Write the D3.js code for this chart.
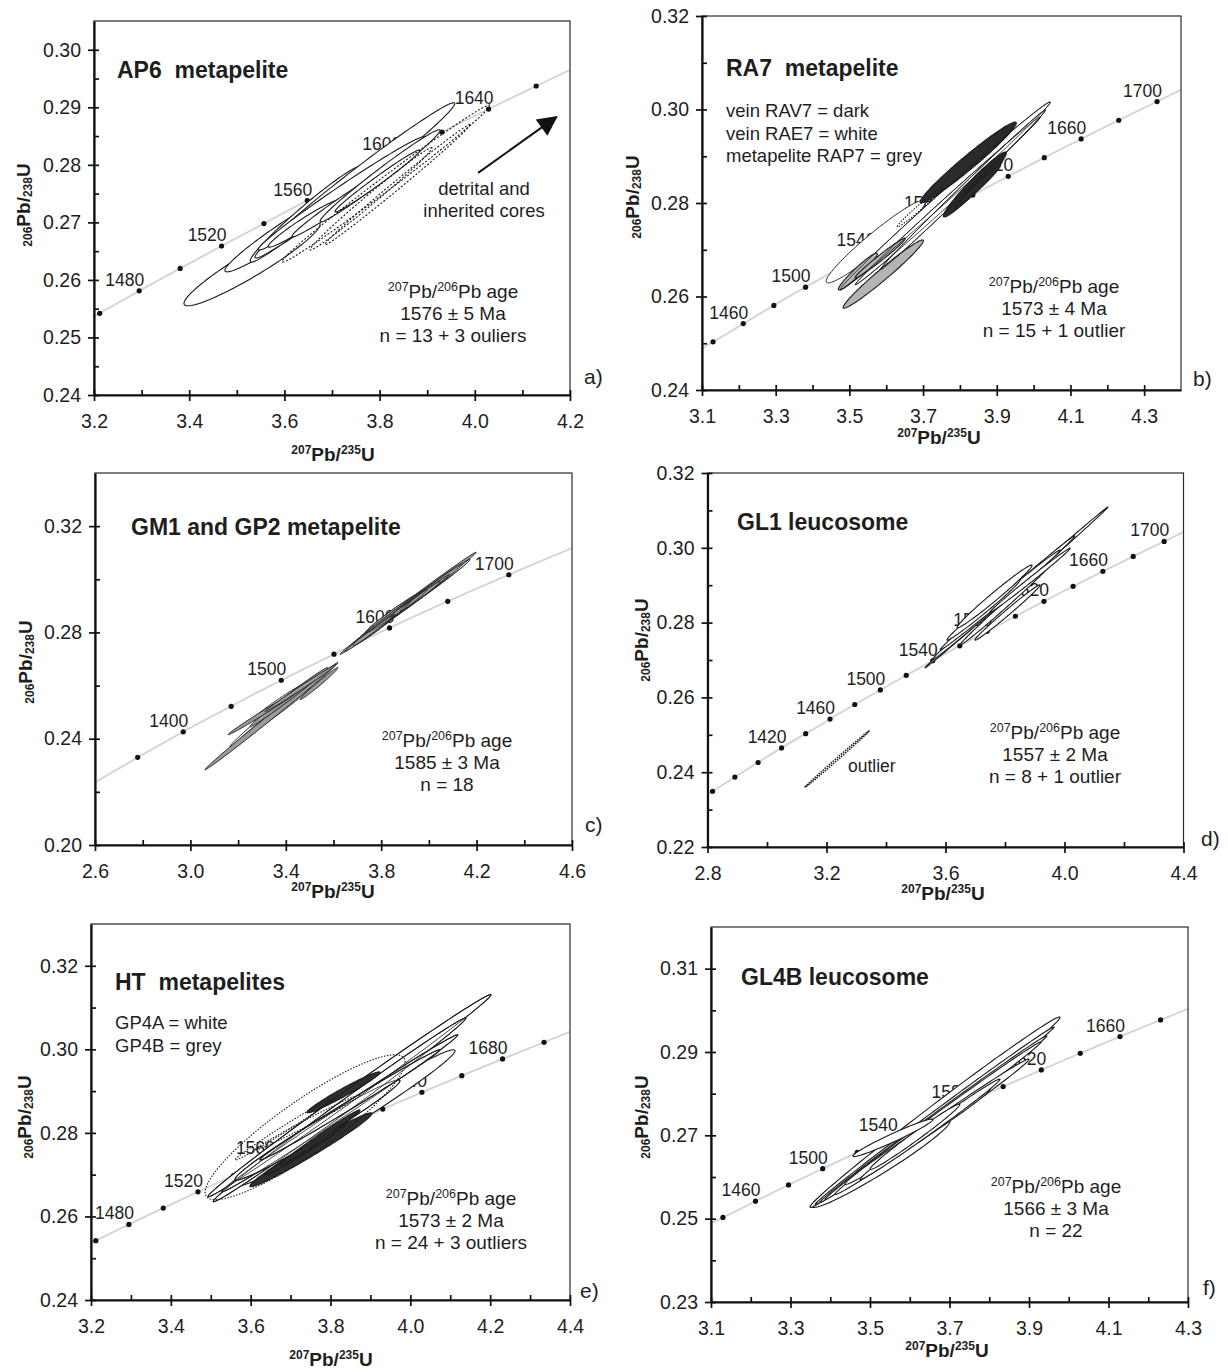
<!DOCTYPE html>
<html>
<head>
<meta charset="utf-8">
<script src="https://cdn.jsdelivr.net/npm/d3@7"></script>
<style>
  body { margin: 0; background: #fff; }
  svg text { font-family: "Liberation Sans", Arial, sans-serif; fill: #1e1e1e; }
  .pre { white-space: pre; }
</style>
</head>
<body>
<div id="fig"></div>
<script>
// Concordia reference points: age (Ma), 207Pb/235U, 206Pb/238U
var concAge = [1300, 1320, 1340, 1350, 1360, 1380, 1400, 1420, 1440, 1450, 1460, 1480, 1500, 1520, 1540, 1550, 1560, 1580, 1600, 1620, 1640, 1650, 1660, 1680, 1700, 1720, 1740, 1760];
var concX = [2.598, 2.669, 2.742, 2.779, 2.817, 2.892, 2.970, 3.049, 3.130, 3.171, 3.212, 3.295, 3.381, 3.468, 3.557, 3.602, 3.648, 3.740, 3.835, 3.931, 4.029, 4.079, 4.129, 4.231, 4.335, 4.441, 4.549, 4.660];
var concY = [0.2234, 0.2272, 0.2310, 0.2330, 0.2349, 0.2387, 0.2426, 0.2465, 0.2503, 0.2522, 0.2542, 0.2581, 0.2620, 0.2659, 0.2698, 0.2718, 0.2738, 0.2777, 0.2817, 0.2857, 0.2897, 0.2917, 0.2937, 0.2977, 0.3017, 0.3058, 0.3098, 0.3139];

// error ellipses: [x min, x max, y min, y max, rho]

// a) AP6 metapelite
var apDots = [1460, 1480, 1500, 1520, 1540, 1560, 1580, 1600, 1620, 1640, 1660];
var apLabels = [1480, 1520, 1560, 1600, 1640];
var apXTicks = [3.2, 3.4, 3.6, 3.8, 4.0, 4.2];
var apXMinor = [3.3, 3.5, 3.7, 3.9, 4.1];
var apYTicks = [0.24, 0.25, 0.26, 0.27, 0.28, 0.29, 0.30];
var apYMinor = [0.245, 0.255, 0.265, 0.275, 0.285, 0.295];
var apEllipses = [
  [3.389, 3.675, 0.2555, 0.2701, 0.942],
  [3.475, 3.738, 0.2614, 0.2760, 0.966],
  [3.528, 3.763, 0.2631, 0.2798, 0.976],
  [3.538, 3.958, 0.2638, 0.2908, 0.989],
  [3.545, 3.895, 0.2652, 0.2849, 0.989],
  [3.566, 3.717, 0.2657, 0.2739, 0.967],
  [3.616, 3.832, 0.2675, 0.2798, 0.985],
  [3.675, 3.927, 0.2701, 0.2861, 0.986],
  [3.706, 3.885, 0.2718, 0.2826, 0.987]
];
var apOutliers = [
  [3.595, 4.032, 0.2631, 0.2904, 0.994],
  [3.654, 3.910, 0.2652, 0.2830, 0.992],
  [3.685, 3.990, 0.2661, 0.2870, 0.996]
];
var apNote = ["1576 ± 5 Ma", "n = 13 + 3 ouliers"];
var apArrow = [[4.007, 0.2786], [4.171, 0.2883]];

// b) RA7 metapelite
var raDots = [1440, 1460, 1480, 1500, 1520, 1540, 1560, 1580, 1600, 1620, 1640, 1660, 1680, 1700];
var raLabels = [1460, 1500, 1540, 1580, 1620, 1660, 1700];
var raXTicks = [3.1, 3.3, 3.5, 3.7, 3.9, 4.1, 4.3];
var raXMinor = [3.2, 3.4, 3.6, 3.8, 4.0, 4.2];
var raYTicks = [0.24, 0.26, 0.28, 0.30, 0.32];
var raYMinor = [0.25, 0.27, 0.29, 0.31];
var raeEllipses = [
  [3.437, 3.706, 0.2629, 0.2806, 0.959],
  [3.475, 4.045, 0.2614, 0.3016, 0.997],
  [3.516, 4.018, 0.2625, 0.2984, 0.998],
  [3.584, 4.032, 0.2657, 0.2999, 0.998]
];
var rapEllipses = [
  [3.483, 3.701, 0.2575, 0.2721, 0.978],
  [3.470, 3.576, 0.2614, 0.2693, 0.960],
  [3.516, 3.652, 0.2640, 0.2725, 0.984]
];
var ravEllipses = [
  [3.692, 3.953, 0.2800, 0.2973, 0.976],
  [3.755, 3.926, 0.2770, 0.2909, 0.968],
  [3.787, 3.910, 0.2789, 0.2881, 0.981]
];
var raOutliers = [[3.630, 3.755, 0.2749, 0.2834, 0.986]];
var raLegend = ["vein RAV7 = dark", "vein RAE7 = white", "metapelite RAP7 = grey"];
var raNote = ["1573 ± 4 Ma", "n = 15 + 1 outlier"];

// c) GM1 and GP2 metapelite
var gmDots = [1350, 1400, 1450, 1500, 1550, 1600, 1650, 1700];
var gmLabels = [1400, 1500, 1600, 1700];
var gmXTicks = [2.6, 3.0, 3.4, 3.8, 4.2, 4.6];
var gmXMinor = [2.8, 3.2, 3.6, 4.0, 4.4];
var gmYTicks = [0.20, 0.24, 0.28, 0.32];
var gmYMinor = [0.22, 0.26, 0.30];
var gmWhiteEllipses = [
  [3.166, 3.552, 0.2370, 0.2653, 0.994],
  [3.208, 3.502, 0.2396, 0.2592, 0.993],
  [3.271, 3.514, 0.2479, 0.2623, 0.986],
  [3.682, 3.921, 0.2751, 0.2917, 0.983],
  [3.736, 3.992, 0.2800, 0.2962, 0.983],
  [3.837, 4.172, 0.2857, 0.3075, 0.993]
];
var gmGreyEllipses = [
  [3.061, 3.619, 0.2283, 0.2687, 0.998],
  [3.250, 3.577, 0.2445, 0.2668, 0.993],
  [3.158, 3.460, 0.2415, 0.2585, 0.995],
  [3.313, 3.611, 0.2502, 0.2679, 0.996],
  [3.460, 3.619, 0.2547, 0.2668, 0.988],
  [3.627, 4.198, 0.2717, 0.3102, 0.998],
  [3.795, 4.139, 0.2823, 0.3057, 0.995],
  [3.711, 4.088, 0.2774, 0.3019, 0.998],
  [3.648, 3.858, 0.2728, 0.2868, 0.993],
  [3.879, 4.047, 0.2879, 0.2992, 0.988]
];
var gmNote = ["1585 ± 3 Ma", "n = 18"];

// d) GL1 leucosome
var glDots = [1360, 1380, 1400, 1420, 1440, 1460, 1480, 1500, 1520, 1540, 1560, 1580, 1600, 1620, 1640, 1660, 1680, 1700];
var glLabels = [1420, 1460, 1500, 1540, 1580, 1620, 1660, 1700];
var glXTicks = [2.8, 3.2, 3.6, 4.0, 4.4];
var glXMinor = [3.0, 3.4, 3.8, 4.2];
var glYTicks = [0.22, 0.24, 0.26, 0.28, 0.30, 0.32];
var glYMinor = [0.23, 0.25, 0.27, 0.29, 0.31];
var glEllipses = [
  [3.531, 4.146, 0.2679, 0.3109, 0.9995],
  [3.555, 4.035, 0.2700, 0.3032, 0.998],
  [3.582, 3.985, 0.2727, 0.2994, 0.997],
  [3.649, 3.951, 0.2740, 0.2954, 0.996],
  [3.750, 4.019, 0.2828, 0.2999, 0.996],
  [3.699, 3.918, 0.2753, 0.2901, 0.992],
  [3.605, 3.850, 0.2753, 0.2914, 0.990],
  [3.639, 3.891, 0.2786, 0.2954, 0.987]
];
var glOutliers = [[3.128, 3.343, 0.2360, 0.2510, 0.9989]];
var glNote = ["1557 ± 2 Ma", "n = 8 + 1 outlier"];

// e) HT metapelites
var htDots = [1460, 1480, 1500, 1520, 1540, 1560, 1580, 1600, 1620, 1640, 1660, 1680, 1700];
var htLabels = [1480, 1520, 1560, 1600, 1640, 1680];
var htXTicks = [3.2, 3.4, 3.6, 3.8, 4.0, 4.2, 4.4];
var htXMinor = [3.3, 3.5, 3.7, 3.9, 4.1, 4.3];
var htYTicks = [0.24, 0.26, 0.28, 0.30, 0.32];
var htYMinor = [0.25, 0.27, 0.29, 0.31];
var gpaEllipses = [
  [3.573, 4.112, 0.2675, 0.2999, 0.985],
  [3.493, 4.202, 0.2647, 0.3131, 0.997],
  [3.506, 4.139, 0.2635, 0.3075, 0.9967],
  [3.528, 4.119, 0.2659, 0.3035, 0.997],
  [3.561, 3.974, 0.2687, 0.2927, 0.982],
  [3.623, 4.074, 0.2735, 0.2999, 0.996]
];
var gpbEllipses = [
  [3.598, 3.904, 0.2671, 0.2848, 0.982],
  [3.741, 3.924, 0.2848, 0.2946, 0.975],
  [3.636, 3.836, 0.2699, 0.2819, 0.990],
  [3.674, 3.874, 0.2723, 0.2855, 0.991]
];
var htOutliers = [
  [3.486, 3.987, 0.2640, 0.2987, 0.897],
  [3.561, 3.799, 0.2735, 0.2879, 0.993],
  [3.611, 3.874, 0.2759, 0.2891, 0.992]
];
var htLegend = ["GP4A = white", "GP4B = grey"];
var htNote = ["1573 ± 2 Ma", "n = 24 + 3 outliers"];

// f) GL4B leucosome
var gbDots = [1440, 1460, 1480, 1500, 1520, 1540, 1560, 1580, 1600, 1620, 1640, 1660, 1680];
var gbLabels = [1460, 1500, 1540, 1580, 1620, 1660];
var gbXTicks = [3.1, 3.3, 3.5, 3.7, 3.9, 4.1, 4.3];
var gbXMinor = [3.2, 3.4, 3.6, 3.8, 4.0, 4.2];
var gbYTicks = [0.23, 0.25, 0.27, 0.29, 0.31];
var gbYMinor = [0.24, 0.26, 0.28, 0.30];
var gbEllipses = [
  [3.354, 3.701, 0.2527, 0.2736, 0.9696],
  [3.349, 3.978, 0.2527, 0.2984, 0.9957],
  [3.362, 3.963, 0.2534, 0.2960, 0.9984],
  [3.374, 3.945, 0.2539, 0.2939, 0.9982],
  [3.387, 3.930, 0.2546, 0.2924, 0.998],
  [3.412, 3.900, 0.2558, 0.2883, 0.9959],
  [3.437, 3.802, 0.2582, 0.2811, 0.992],
  [3.475, 3.827, 0.2594, 0.2835, 0.995],
  [3.500, 3.726, 0.2618, 0.2775, 0.988],
  [3.457, 3.658, 0.2649, 0.2739, 0.971]
];
var gbNote = ["1566 ± 3 Ma", "n = 22"];

var panels = [
  { id: "a", left: 94, right: 570, top: 21, bottom: 395, xDomain: [3.2, 4.2], yDomain: [0.24, 0.305],
    xTicks: apXTicks, xMinor: apXMinor, yTicks: apYTicks, yMinor: apYMinor,
    dots: apDots, labels: apLabels,
    groups: [{ data: apEllipses, fill: "#fff" }, { data: apOutliers, fill: "none", dash: "2,1.8" }],
    title: "AP6  metapelite", titleX: 117, titleY: 78,
    note: apNote, noteX: 453, noteY: 298,
    letter: "a)", letterX: 584, letterY: 384,
    yLabelX: 23, yLabelY: 205, xLabelX: 333, xLabelY: 461 },
  { id: "b", left: 702, right: 1181, top: 16, bottom: 390, xDomain: [3.1, 4.4], yDomain: [0.24, 0.32],
    xTicks: raXTicks, xMinor: raXMinor, yTicks: raYTicks, yMinor: raYMinor,
    dots: raDots, labels: raLabels,
    groups: [{ data: raeEllipses, fill: "#fff", width: 0.9 }, { data: rapEllipses, fill: "#b4b4b4" },
             { data: ravEllipses, fill: "#2a2a2a" }, { data: raeEllipses.slice(1), fill: "none", width: 0.8 },
             { data: raOutliers, fill: "none", dash: "1.5,1.5" }],
    title: "RA7  metapelite", titleX: 726, titleY: 76,
    legend: raLegend, legendX: 726, legendY: 117,
    note: raNote, noteX: 1054, noteY: 293,
    letter: "b)", letterX: 1193, letterY: 386,
    yLabelX: 632, yLabelY: 197, xLabelX: 939, xLabelY: 444 },
  { id: "c", left: 95, right: 572, top: 473, bottom: 845, xDomain: [2.6, 4.6], yDomain: [0.20, 0.34],
    xTicks: gmXTicks, xMinor: gmXMinor, yTicks: gmYTicks, yMinor: gmYMinor,
    dots: gmDots, labels: gmLabels,
    groups: [{ data: gmWhiteEllipses, fill: "#f4f4f4", width: 0.9 }, { data: gmGreyEllipses, fill: "#9a9a9a", width: 0.9 },
             { data: gmWhiteEllipses.slice(3), fill: "none", width: 0.7 }],
    title: "GM1 and GP2 metapelite", titleX: 131, titleY: 535,
    note: gmNote, noteX: 447, noteY: 747,
    letter: "c)", letterX: 585, letterY: 832,
    yLabelX: 25, yLabelY: 662, xLabelX: 333, xLabelY: 898 },
  { id: "d", left: 707.5, right: 1183.5, top: 473, bottom: 847, xDomain: [2.8, 4.4], yDomain: [0.22, 0.32],
    xTicks: glXTicks, xMinor: glXMinor, yTicks: glYTicks, yMinor: glYMinor,
    dots: glDots, labels: glLabels,
    groups: [{ data: glEllipses, fill: "#fff", width: 1.1 }, { data: glOutliers, fill: "none", dash: "1.5,1.2", width: 1.6 }],
    title: "GL1 leucosome", titleX: 737, titleY: 530,
    note: glNote, noteX: 1055, noteY: 739,
    extra: [{ text: "outlier", x: 848, y: 772 }],
    letter: "d)", letterX: 1201, letterY: 846,
    yLabelX: 641, yLabelY: 640, xLabelX: 943, xLabelY: 900 },
  { id: "e", left: 91, right: 570, top: 924, bottom: 1300, xDomain: [3.2, 4.4], yDomain: [0.24, 0.33],
    xTicks: htXTicks, xMinor: htXMinor, yTicks: htYTicks, yMinor: htYMinor,
    dots: htDots, labels: htLabels,
    groups: [{ data: gpaEllipses, fill: "#fff" }, { data: gpbEllipses, fill: "#2e2e2e" },
             { data: gpaEllipses.slice(1), fill: "none", width: 0.8 }, { data: htOutliers, fill: "none", dash: "1.5,1.5" }],
    title: "HT  metapelites", titleX: 115, titleY: 990,
    legend: htLegend, legendX: 115, legendY: 1029,
    note: htNote, noteX: 451, noteY: 1205,
    letter: "e)", letterX: 580, letterY: 1298,
    yLabelX: 24, yLabelY: 1117, xLabelX: 331, xLabelY: 1366 },
  { id: "f", left: 711, right: 1188, top: 927, bottom: 1302, xDomain: [3.1, 4.3], yDomain: [0.23, 0.32],
    xTicks: gbXTicks, xMinor: gbXMinor, yTicks: gbYTicks, yMinor: gbYMinor,
    dots: gbDots, labels: gbLabels,
    groups: [{ data: gbEllipses, fill: "#fff" }],
    title: "GL4B leucosome", titleX: 741, titleY: 985,
    note: gbNote, noteX: 1056, noteY: 1193,
    letter: "f)", letterX: 1203, letterY: 1295,
    yLabelX: 641, yLabelY: 1117, xLabelX: 947, xLabelY: 1357 }
];

var svg = d3.select("#fig").append("svg")
  .attr("width", 1228)
  .attr("height", 1370);

var defs = svg.append("defs");
defs.append("marker")
  .attr("id", "arrowhead")
  .attr("viewBox", "0 0 10 10")
  .attr("refX", 9).attr("refY", 5)
  .attr("markerUnits", "userSpaceOnUse")
  .attr("markerWidth", 24).attr("markerHeight", 20)
  .attr("orient", "auto")
  .append("path").attr("d", "M0,0 L10,5 L0,10 Z").attr("fill", "#111");

var concPoints = concAge.map(function(a, i) { return { age: a, x: concX[i], y: concY[i] }; });
function concAt(age) { return concPoints[concAge.indexOf(age)]; }

// boundary of a correlated error ellipse in data space
function ellipsePoints(e) {
  var cx = (e[0] + e[1]) / 2, sx = (e[1] - e[0]) / 2;
  var cy = (e[2] + e[3]) / 2, sy = (e[3] - e[2]) / 2;
  var r = e[4], q = Math.sqrt(1 - r * r);
  return d3.range(120).map(function(i) {
    var t = i / 120 * 2 * Math.PI;
    return [cx + sx * Math.cos(t), cy + sy * (r * Math.cos(t) + q * Math.sin(t))];
  });
}

var FONT = "Liberation Sans, Arial, sans-serif";

panels.forEach(function(p) {
  var x = d3.scaleLinear().domain(p.xDomain).range([p.left, p.right]);
  var y = d3.scaleLinear().domain(p.yDomain).range([p.bottom, p.top]);
  var g = svg.append("g").attr("class", "panel-" + p.id);

  defs.append("clipPath").attr("id", "clip-" + p.id)
    .append("rect")
    .attr("x", p.left).attr("y", p.top)
    .attr("width", p.right - p.left).attr("height", p.bottom - p.top);

  var plot = g.append("g").attr("clip-path", "url(#clip-" + p.id + ")");

  // concordia curve
  plot.append("path")
    .datum(concPoints)
    .attr("d", d3.line().x(d => x(d.x)).y(d => y(d.y)).curve(d3.curveCatmullRom))
    .attr("fill", "none")
    .attr("stroke", "#d2d2d2")
    .attr("stroke-width", 1.8);

  // age labels
  plot.selectAll(".age")
    .data(p.labels.map(concAt))
    .enter().append("text")
    .attr("x", d => x(d.x) + 5)
    .attr("y", d => y(d.y) - 5)
    .attr("text-anchor", "end")
    .attr("font-size", 17.5)
    .attr("fill", "#222")
    .text(d => d.age);

  // age markers
  plot.selectAll(".dot")
    .data(p.dots.map(concAt))
    .enter().append("circle")
    .attr("cx", d => x(d.x))
    .attr("cy", d => y(d.y))
    .attr("r", 2.6)
    .attr("fill", "#111");

  // error ellipses
  var ell = d3.line().x(d => x(d[0])).y(d => y(d[1])).curve(d3.curveLinearClosed);
  p.groups.forEach(function(grp) {
    plot.append("g").selectAll("path")
      .data(grp.data)
      .enter().append("path")
      .attr("d", d => ell(ellipsePoints(d)))
      .attr("fill", grp.fill)
      .attr("stroke", "#1a1a1a")
      .attr("stroke-width", grp.width || 1.1)
      .attr("stroke-dasharray", grp.dash || null);
  });

  // frame
  g.append("rect")
    .attr("x", p.left).attr("y", p.top)
    .attr("width", p.right - p.left).attr("height", p.bottom - p.top)
    .attr("fill", "none")
    .attr("stroke", "#2a2a2a")
    .attr("stroke-width", 1.2);

  // axes
  var gy = g.append("g")
    .attr("transform", `translate(${p.left},0)`)
    .call(d3.axisLeft(y).tickValues(p.yTicks).tickFormat(d3.format(".2f"))
      .tickSizeInner(6).tickSizeOuter(0).tickPadding(7));
  var gx = g.append("g")
    .attr("transform", `translate(0,${p.bottom})`)
    .call(d3.axisBottom(x).tickValues(p.xTicks).tickFormat(d3.format(".1f"))
      .tickSizeInner(6).tickSizeOuter(0).tickPadding(13));
  [gy, gx].forEach(function(a) {
    a.attr("font-family", FONT).attr("font-size", 19.5);
    a.select(".domain").attr("stroke", "#111").attr("stroke-width", 2.2);
    a.selectAll(".tick line").attr("stroke", "#111").attr("stroke-width", 1.7);
    a.selectAll(".tick text").attr("fill", "#222");
  });
  // inward ticks (major + minor)
  g.append("g")
    .attr("transform", `translate(${p.left},0)`)
    .call(d3.axisRight(y).tickValues(p.yTicks.concat(p.yMinor)).tickSize(5).tickFormat(""))
    .call(a => a.select(".domain").remove())
    .selectAll("line").attr("stroke", "#111").attr("stroke-width", 1.7);
  g.append("g")
    .attr("transform", `translate(0,${p.bottom})`)
    .call(d3.axisTop(x).tickValues(p.xTicks.concat(p.xMinor)).tickSize(5).tickFormat(""))
    .call(a => a.select(".domain").remove())
    .selectAll("line").attr("stroke", "#111").attr("stroke-width", 1.7);

  // axis titles
  var xl = g.append("text")
    .attr("x", p.xLabelX).attr("y", p.xLabelY)
    .attr("text-anchor", "middle")
    .attr("font-weight", "bold")
    .attr("font-size", 19);
  xl.append("tspan").attr("font-size", 12).attr("dy", -7).text("207");
  xl.append("tspan").attr("dy", 7).text("Pb/");
  xl.append("tspan").attr("font-size", 12).attr("dy", -7).text("235");
  xl.append("tspan").attr("dy", 7).text("U");

  var yl = g.append("text")
    .attr("transform", `translate(${p.yLabelX + 7},${p.yLabelY}) rotate(-90)`)
    .attr("text-anchor", "middle")
    .attr("font-weight", "bold")
    .attr("font-size", 19);
  yl.append("tspan").attr("font-size", 12).attr("dy", 2).text("206");
  yl.append("tspan").attr("dy", -2).text("Pb/");
  yl.append("tspan").attr("font-size", 12).attr("dy", 2).text("238");
  yl.append("tspan").attr("dy", -2).text("U");

  // title
  g.append("text")
    .attr("class", "pre")
    .attr("x", p.titleX).attr("y", p.titleY)
    .attr("font-weight", "bold")
    .attr("font-size", 23)
    .text(p.title);

  // legend of sample shading
  if (p.legend) {
    g.selectAll(".leg")
      .data(p.legend)
      .enter().append("text")
      .attr("x", p.legendX)
      .attr("y", (d, i) => p.legendY + i * 22.5)
      .attr("font-size", 18.5)
      .text(d => d);
  }

  // age result
  var n0 = g.append("text")
    .attr("x", p.noteX).attr("y", p.noteY)
    .attr("text-anchor", "middle")
    .attr("font-size", 19);
  n0.append("tspan").attr("font-size", 12.5).attr("dy", -7).text("207");
  n0.append("tspan").attr("dy", 7).text("Pb/");
  n0.append("tspan").attr("font-size", 12.5).attr("dy", -7).text("206");
  n0.append("tspan").attr("dy", 7).text("Pb age");
  g.selectAll(".note")
    .data(p.note)
    .enter().append("text")
    .attr("x", p.noteX)
    .attr("y", (d, i) => p.noteY + (i + 1) * 22)
    .attr("text-anchor", "middle")
    .attr("font-size", 19)
    .text(d => d);

  if (p.extra) {
    p.extra.forEach(function(t) {
      g.append("text").attr("x", t.x).attr("y", t.y).attr("font-size", 17.5).text(t.text);
    });
  }

  // panel letter
  g.append("text")
    .attr("x", p.letterX).attr("y", p.letterY)
    .attr("font-size", 21)
    .text(p.letter);

  if (p.id === "a") {
    g.append("line")
      .attr("x1", x(apArrow[0][0])).attr("y1", y(apArrow[0][1]))
      .attr("x2", x(apArrow[1][0])).attr("y2", y(apArrow[1][1]))
      .attr("stroke", "#111")
      .attr("stroke-width", 2)
      .attr("marker-end", "url(#arrowhead)");
    g.selectAll(".cores")
      .data(["detrital and", "inherited cores"])
      .enter().append("text")
      .attr("x", 484)
      .attr("y", (d, i) => 195 + i * 22)
      .attr("text-anchor", "middle")
      .attr("font-size", 18.5)
      .text(d => d);
  }
});
</script>
</body>
</html>
